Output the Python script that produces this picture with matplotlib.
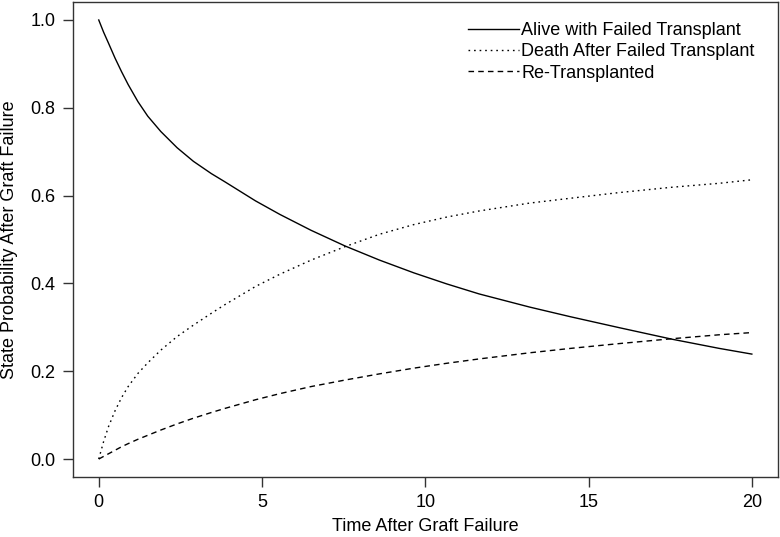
import numpy as np
import matplotlib.pyplot as plt

plt.rcParams['font.family'] = ['Liberation Sans', 'DejaVu Sans']

# Values
time = [0, 0.15, 0.3, 0.5, 0.7, 0.9, 1.2, 1.5, 1.9, 2.4, 2.9, 3.45, 3.85, 4.8,
        5.55, 6.5, 7.55, 8.6, 9.65, 10.65, 11.65, 13.2, 14.45, 15.95, 17.55, 19.0, 20]
alive = [1.0, 0.972, 0.947, 0.913, 0.882, 0.853, 0.814, 0.781, 0.746, 0.709, 0.678,
         0.650, 0.632, 0.588, 0.557, 0.521, 0.485, 0.453, 0.424, 0.399, 0.376, 0.346,
         0.324, 0.299, 0.273, 0.252, 0.239]
death = [0.0, 0.040, 0.074, 0.110, 0.140, 0.165, 0.195, 0.219, 0.248, 0.279, 0.305,
         0.332, 0.351, 0.393, 0.421, 0.453, 0.484, 0.512, 0.534, 0.551, 0.565, 0.583,
         0.594, 0.607, 0.619, 0.628, 0.636]
retrans = [0.0, 0.006, 0.012, 0.020, 0.028, 0.035, 0.045, 0.054, 0.066, 0.080, 0.093,
           0.106, 0.115, 0.135, 0.149, 0.165, 0.180, 0.194, 0.207, 0.218, 0.228, 0.242,
           0.252, 0.263, 0.274, 0.283, 0.288]

labels = ['Alive with Failed Transplant', 'Death After Failed Transplant', 'Re-Transplanted']
x_ticks = [0, 5, 10, 15, 20]
y_ticks = [0.0, 0.2, 0.4, 0.6, 0.8, 1.0]

fig = plt.figure(figsize=(7.8, 5.37), dpi=100)
ax = fig.add_axes([0.0931, 0.1125, 0.9043, 0.883])

ax.plot(time, alive, color='black', lw=1.0, linestyle='-', label=labels[0])
ax.plot(time, death, color='black', lw=1.0, linestyle=(0, (1.2, 2.8)), label=labels[1])
ax.plot(time, retrans, color='black', lw=1.0, linestyle=(0, (4, 3)), label=labels[2])

ax.set_xlim(-0.8, 20.8)
ax.set_ylim(-0.04, 1.04)
ax.set_xticks(x_ticks)
ax.set_xticklabels([str(v) for v in x_ticks])
ax.set_yticks(y_ticks)
ax.set_yticklabels(['%.1f' % v for v in y_ticks])

for s in ax.spines.values():
    s.set_linewidth(1.0)
    s.set_color('#333333')
ax.tick_params(direction='out', length=7.5, width=1.0, color='#333333',
               labelsize=13, pad=5)

ax.set_xlabel('Time After Graft Failure', fontsize=13, labelpad=5)
ax.set_ylabel('State Probability After Graft Failure', fontsize=13, labelpad=9)

ax.legend(loc='upper left', bbox_to_anchor=(468 / 780, 1 - 22 / 537),
          bbox_transform=fig.transFigure, frameon=False, fontsize=13,
          handlelength=2.8, handletextpad=0.15, labelspacing=0.24,
          borderpad=0, borderaxespad=0)

fig.savefig('out.png', dpi=100)
